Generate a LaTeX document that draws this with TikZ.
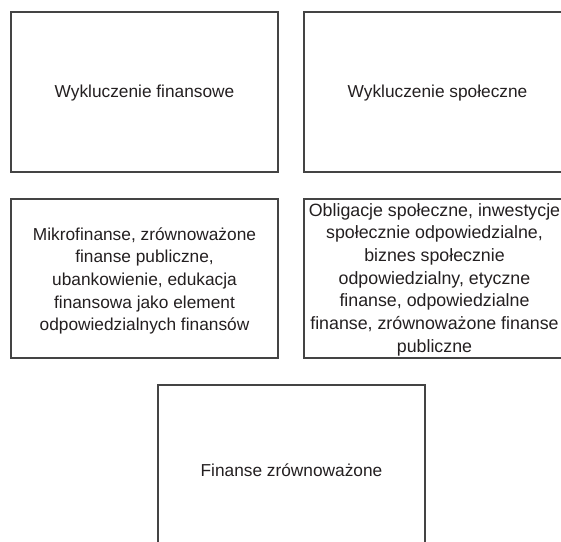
\documentclass[tikz,border=0pt]{standalone}
\usepackage{fontspec}
\setmainfont{Liberation Sans}
\definecolor{boxgray}{HTML}{444444}
\definecolor{txt}{HTML}{231F20}
\begin{document}
\begin{tikzpicture}[x=1pt,y=-1pt,
  box/.style={draw=boxgray, line width=1.3pt, minimum width=267pt, inner sep=0pt},
  lbl/.style={inner sep=0pt, align=center, font=\fontsize{17.3}{22.6}\selectfont, text=txt}]
\useasboundingbox (0,0) rectangle (561,541);
\clip (0,0) rectangle (561,541);
\node[box, minimum height=160pt] (b1) at (144.5,92) {};
\node[box, minimum height=160pt] (b2) at (437.5,92) {};
\node[box, minimum height=159pt] (b3) at (144.5,278.5) {};
\node[box, minimum height=159pt] (b4) at (437.5,278.5) {};
\node[box, minimum height=170pt] (b5) at (291.5,470) {};
\node[lbl, yshift=-1.5pt] (t1) at (b1.center) {Wykluczenie finansowe};
\node[lbl, yshift=-1.5pt] (t2) at (b2.center) {Wykluczenie społeczne};
\node[lbl, yshift=-2.5pt] (t3) at (b3.center) {Mikrofinanse, zrównoważone\\finanse publiczne,\\ubankowienie, edukacja\\finansowa jako element\\odpowiedzialnych finansów};
\node[lbl, font=\fontsize{17.8}{22.7}\selectfont, xshift=-3pt, yshift=-1pt] (t4) at (b4.center) {Obligacje społeczne, inwestycje\\społecznie odpowiedzialne,\\biznes społecznie\\odpowiedzialny, etyczne\\finanse, odpowiedzialne\\finanse, zrównoważone finanse\\publiczne};
\node[lbl] (t5) at (b5.center) {Finanse zrównoważone};
\end{tikzpicture}
\end{document}
